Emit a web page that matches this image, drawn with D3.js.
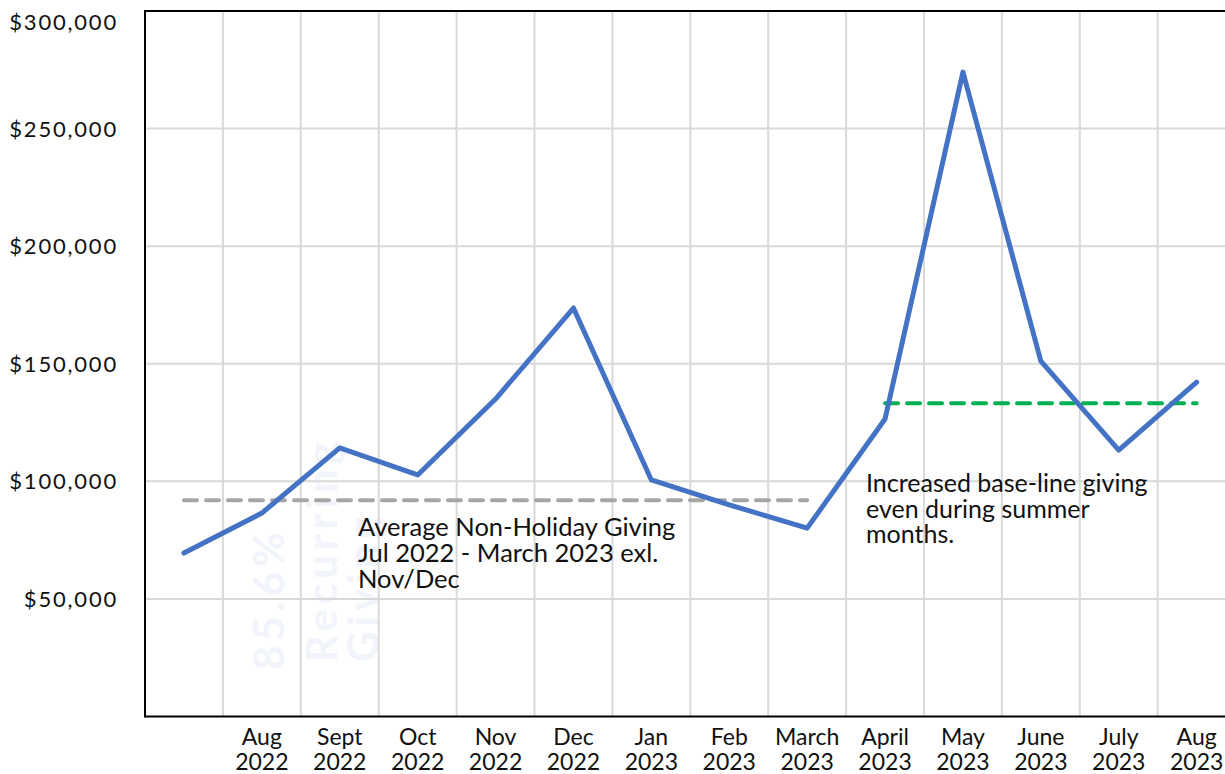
<!DOCTYPE html>
<html>
<head>
<meta charset="utf-8">
<script src="https://cdn.jsdelivr.net/npm/d3@7"></script>
<style>
  html, body { margin: 0; padding: 0; background: #fff; }
  svg { display: block; }
  text { font-family: Lato, "Open Sans", sans-serif; fill: #111; }
</style>
</head>
<body>
<svg id="chart" width="1225" height="774"></svg>
<script>
// ---- data ----
const months = ["Jul 2022","Aug 2022","Sept 2022","Oct 2022","Nov 2022","Dec 2022","Jan 2023","Feb 2023","March 2023","April 2023","May 2023","June 2023","July 2023","Aug 2023"];
const tickLabels = [["",""],["Aug","2022"],["Sept","2022"],["Oct","2022"],["Nov","2022"],["Dec","2022"],["Jan","2023"],["Feb","2023"],["March","2023"],["April","2023"],["May","2023"],["June","2023"],["July","2023"],["Aug","2023"]];
const giving = [69500, 86500, 114200, 102700, 135000, 173700, 100600, 90000, 80100, 126500, 274000, 151100, 113300, 142200];
const yTicks = [50000, 100000, 150000, 200000, 250000, 300000];
const avgNonHoliday = { from: "Jul 2022", to: "March 2023", value: 92000 };
const avgNew = { from: "April 2023", to: "Aug 2023", value: 133200 };
const note1 = ["Average Non-Holiday Giving", "Jul 2022 - March 2023 exl.", "Nov/Dec"];
const note2 = ["Increased base-line giving", "even during summer", "months."];
const watermark = ["85.6%", "Recurring", "Giving"];

// ---- layout ----
const svg = d3.select("#chart");
const mLeft = 145, mTop = 11, mBottom = 716.5, bandW = 77.9;
const x = d3.scaleBand().domain(months).range([mLeft, mLeft + months.length * bandW]).padding(0);
const cx = d => x(d) + x.bandwidth() / 2;
const y = d3.scaleLinear().domain([0, 300000]).range([mBottom, mTop]);

// watermark (very faint)
const wm = svg.append("g");
watermark.forEach((t, i) => {
  wm.append("text")
    .attr("transform", `translate(${[284, 337, 378][i]},${[670, 662, 662][i]}) rotate(-90)`)
    .attr("font-size", 42).attr("font-weight", 700).attr("letter-spacing", 5)
    .style("fill", "#f1f4fa")
    .text(t);
});

// gridlines
const g = svg.append("g");
g.selectAll("line.h").data(yTicks.filter(v => v < 300000)).join("line")
  .attr("x1", mLeft).attr("x2", 1225).attr("y1", d => y(d)).attr("y2", d => y(d))
  .attr("stroke", "#d9d9d9").attr("stroke-width", 2);
g.selectAll("line.v").data(months.slice(1)).join("line")
  .attr("x1", d => x(d)).attr("x2", d => x(d)).attr("y1", mTop).attr("y2", mBottom)
  .attr("stroke", "#d9d9d9").attr("stroke-width", 2);

// axes / border
svg.append("line").attr("x1", mLeft).attr("x2", 1225).attr("y1", mTop).attr("y2", mTop).attr("stroke", "#000").attr("stroke-width", 2);
svg.append("line").attr("x1", mLeft).attr("x2", mLeft).attr("y1", mTop - 1).attr("y2", mBottom + 1).attr("stroke", "#000").attr("stroke-width", 2);
svg.append("line").attr("x1", mLeft).attr("x2", 1225).attr("y1", mBottom).attr("y2", mBottom).attr("stroke", "#000").attr("stroke-width", 2);

// y tick labels
const fmt = d3.format("$,");
svg.append("g").selectAll("text").data(yTicks).join("text")
  .attr("x", 118).attr("y", d => Math.max(y(d), 22) + 8)
  .attr("text-anchor", "end").attr("font-size", 22).attr("letter-spacing", 1.8)
  .text(d => fmt(d));

// x tick labels
const xl = svg.append("g").selectAll("text").data(months).join("text")
  .attr("text-anchor", "middle").attr("font-size", 23);
xl.each(function(d, i) {
  const t = d3.select(this);
  t.append("tspan").attr("x", cx(d)).attr("y", 745).text(tickLabels[i][0]);
  t.append("tspan").attr("x", cx(d)).attr("y", 770).text(tickLabels[i][1]);
});

// average lines
svg.append("line")
  .attr("x1", cx(avgNonHoliday.from)).attr("x2", cx(avgNonHoliday.to))
  .attr("y1", y(avgNonHoliday.value)).attr("y2", y(avgNonHoliday.value))
  .attr("stroke", "#a6a6a6").attr("stroke-width", 4).attr("stroke-linecap", "round").attr("stroke-dasharray", "13,9");
svg.append("line")
  .attr("x1", cx(avgNew.from)).attr("x2", cx(avgNew.to))
  .attr("y1", y(avgNew.value)).attr("y2", y(avgNew.value))
  .attr("stroke", "#00b050").attr("stroke-width", 4).attr("stroke-linecap", "round").attr("stroke-dasharray", "13,9");

// main line
svg.append("path").datum(giving)
  .attr("fill", "none").attr("stroke", "#4472c4").attr("stroke-width", 5)
  .attr("stroke-linejoin", "round").attr("stroke-linecap", "round")
  .attr("d", d3.line().x((d, i) => cx(months[i])).y(d => y(d)));

// annotations
const n1 = svg.append("text").attr("font-size", 25.5);
note1.forEach((t, i) => n1.append("tspan").attr("x", 358).attr("y", 536 + i * 26).text(t));
const n2 = svg.append("text").attr("font-size", 25);
note2.forEach((t, i) => n2.append("tspan").attr("x", 866).attr("y", 492 + i * 25.5).text(t));
</script>
</body>
</html>
